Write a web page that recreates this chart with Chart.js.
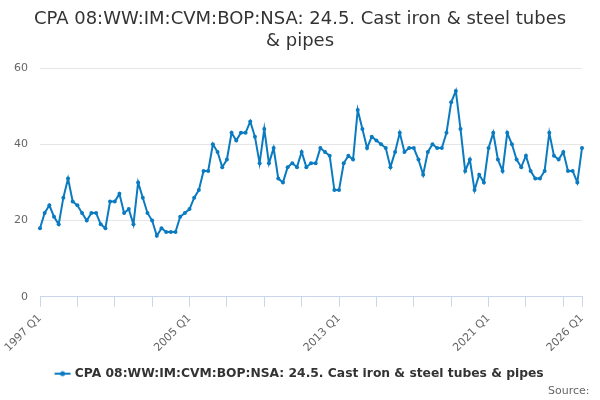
<!DOCTYPE html>
<html>
<head>
<meta charset="utf-8">
<script src="https://cdn.jsdelivr.net/npm/chart.js@4/dist/chart.umd.min.js"></script>
<style>
  html, body { margin: 0; padding: 0; background: #fff; }
  #wrap { width: 600px; height: 400px; }
</style>
</head>
<body>
<div id="wrap"><canvas id="chImports"></canvas></div>
<script>
// series: 1997 Q1 .. 2026 Q1, quarterly
var firstYear = 1997;
var lastYear = 2026;
var values = [
  18, 22, 24, 21, 19, 26, 31, 25, 24, 22, 20, 22, 22, 19, 18, 25,
  25, 27, 22, 23, 19, 30, 26, 22, 20, 16, 18, 17, 17, 17, 21, 22,
  23, 26, 28, 33, 33, 40, 38, 34, 36, 43, 41, 43, 43, 46, 42, 35,
  44, 35, 39, 31, 30, 34, 35, 34, 38, 34, 35, 35, 39, 38, 37, 28,
  28, 35, 37, 36, 49, 44, 39, 42, 41, 40, 39, 34, 38, 43, 38, 39,
  39, 36, 32, 38, 40, 39, 39, 43, 51, 54, 44, 33, 36, 28, 32, 30,
  39, 43, 36, 33, 43, 40, 36, 34, 37, 33, 31, 31, 33, 43, 37, 36,
  38, 33, 33, 30, 39
];
var labeledQuarters = ['1997 Q1', '2005 Q1', '2013 Q1', '2021 Q1', '2026 Q1'];
var yTicks = [0, 20, 40, 60];

var seriesName = 'CPA 08:WW:IM:CVM:BOP:NSA: 24.5. Cast iron & steel tubes & pipes';
var lineColor = '#0b7bc1';

// quarter labels
var labels = [];
for (var y = firstYear; y <= lastYear; y++) {
  for (var q = 1; q <= 4; q++) {
    if (labels.length < values.length) labels.push(y + ' Q' + q);
  }
}

// legend marker: short line with a dot
var marker = document.createElement('canvas');
marker.width = 18; marker.height = 8;
var mc = marker.getContext('2d');
mc.strokeStyle = lineColor; mc.lineWidth = 2;
mc.beginPath(); mc.moveTo(1, 4); mc.lineTo(17, 4); mc.stroke();
mc.fillStyle = lineColor;
mc.beginPath(); mc.arc(9, 4, 2.5, 0, Math.PI * 2); mc.fill();

function isTickMark(i) {
  return i % 8 === 0 || i === labels.length - 1;
}

var font = '"DejaVu Sans", sans-serif';

new Chart(document.getElementById('chImports'), {
  type: 'line',
  data: {
    labels: labels,
    datasets: [{
      label: seriesName,
      data: values,
      borderColor: lineColor,
      backgroundColor: lineColor,
      borderWidth: 2,
      pointRadius: 2,
      pointHoverRadius: 3,
      pointBorderWidth: 0,
      pointStyle: 'circle',
      tension: 0
    }]
  },
  options: {
    responsive: true,
    maintainAspectRatio: false,
    animation: false,
    layout: { padding: { left: 0, right: 0, top: 4, bottom: 2 } },
    plugins: {
      title: {
        display: true,
        text: ['CPA 08:WW:IM:CVM:BOP:NSA: 24.5. Cast iron & steel tubes', '& pipes'],
        color: '#333333',
        font: { family: font, size: 18, weight: 'normal', lineHeight: 1.25 },
        padding: { top: 4, bottom: 15 }
      },
      subtitle: {
        display: true,
        position: 'bottom',
        align: 'end',
        text: 'Source:\u00a0\u00a0\u00a0',
        color: '#666666',
        font: { family: font, size: 11, weight: 'normal' },
        padding: { top: -5, bottom: 0 }
      },
      legend: {
        position: 'bottom',
        labels: {
          usePointStyle: true,
          pointStyle: marker,
          color: '#333333',
          font: { family: font, size: 12.3, weight: 'bold' },
          padding: 8,
          generateLabels: function (chart) {
            return [{
              text: seriesName,
              pointStyle: marker,
              fontColor: '#333333',
              datasetIndex: 0,
              lineWidth: 0
            }];
          }
        }
      },
      tooltip: { enabled: false }
    },
    scales: {
      x: {
        type: 'category',
        offset: false,
        border: { color: '#ccd6eb', width: 1 },
        grid: {
          drawOnChartArea: false,
          drawTicks: true,
          tickLength: 10,
          tickColor: function (ctx) { return isTickMark(ctx.index) ? '#ccd6eb' : 'rgba(0,0,0,0)'; }
        },
        ticks: {
          autoSkip: false,
          maxRotation: 45,
          minRotation: 45,
          color: '#666666',
          padding: 5,
          font: { family: font, size: 11 },
          callback: function (val, i) {
            var l = labels[i];
            return labeledQuarters.indexOf(l) >= 0 ? l : '';
          }
        }
      },
      y: {
        min: 0,
        max: 60,
        afterFit: function (scale) { scale.width = 40; },
        afterBuildTicks: function (scale) {
          scale.ticks = yTicks.map(function (v) { return { value: v }; });
        },
        border: { display: false },
        grid: { color: '#e6e6e6', drawTicks: false },
        ticks: {
          color: '#666666',
          padding: 12,
          font: { family: font, size: 11 }
        }
      },
      // empty right margin so the plot stops short of the edge
      yPad: {
        position: 'right',
        display: true,
        afterFit: function (scale) { scale.width = 18; },
        border: { display: false },
        grid: { display: false },
        ticks: { display: false }
      }
    }
  }
});
</script>
</body>
</html>
